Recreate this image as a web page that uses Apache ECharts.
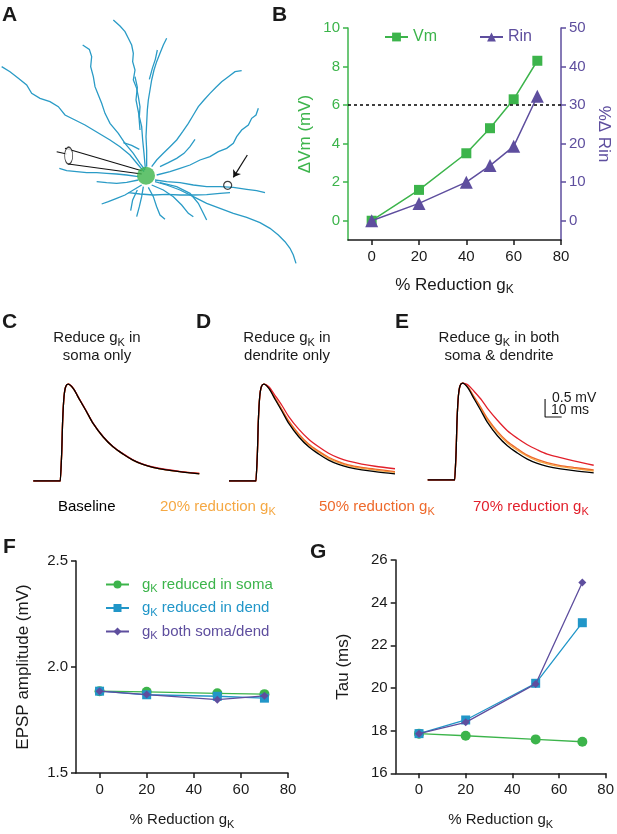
<!DOCTYPE html>
<html>
<head>
<meta charset="utf-8">
<script src="https://cdn.jsdelivr.net/npm/echarts@6/dist/echarts.min.js"></script>
<style>
  html, body { margin: 0; padding: 0; background: #fff; }
  #chart { width: 617px; height: 834px; }
</style>
</head>
<body>
<div id="chart"></div>
<script>
const FONT = '"Liberation Sans", Arial, sans-serif';
const INK = '#1a1a1a';
const GREEN = '#3cb44b';
const PURPLE = '#5e4e9e';
const BLUE = '#2196c8';
const DEND_COLOR = '#2a9bc6';
const C20 = '#f5a843';
const C50 = '#ee6a2c';
const C70 = '#e2202b';

// ---- panel B ----
const reductionB = [0, 20, 40, 50, 60, 70];
const deltaVm = [0, 1.6, 3.5, 4.8, 6.3, 8.3];
const deltaRin = [0, 4.5, 10, 14.3, 19.3, 32.3];
const thresholdVm = 6;
const xTicks = [0, 20, 40, 60, 80];
const vmTicks = [0, 2, 4, 6, 8, 10];
const rinTicks = [0, 10, 20, 30, 40, 50];

// ---- panels C-E (ms, mV) ----
const traceTime = [0, 16.3, 16.5, 17.1, 17.7, 18.5, 19.5, 21, 24, 28, 32, 36, 42, 48, 54, 60, 66, 72, 80, 88, 100];
const baseline  = [0, 0, 0, 0.77, 1.69, 2.34, 2.62, 2.69, 2.57, 2.25, 1.93, 1.60, 1.23, 0.95, 0.75, 0.58, 0.46, 0.38, 0.31, 0.26, 0.20];
const soma20    = [0, 0, 0, 0.77, 1.69, 2.34, 2.62, 2.69, 2.57, 2.25, 1.93, 1.60, 1.23, 0.95, 0.75, 0.58, 0.46, 0.38, 0.31, 0.26, 0.20];
const soma50    = [0, 0, 0, 0.77, 1.69, 2.34, 2.62, 2.69, 2.57, 2.25, 1.93, 1.60, 1.23, 0.95, 0.75, 0.58, 0.46, 0.38, 0.31, 0.26, 0.21];
const soma70    = [0, 0, 0, 0.77, 1.69, 2.34, 2.62, 2.69, 2.58, 2.26, 1.94, 1.61, 1.24, 0.96, 0.76, 0.59, 0.47, 0.39, 0.32, 0.27, 0.21];
const dend20    = [0, 0, 0, 0.77, 1.69, 2.34, 2.62, 2.69, 2.58, 2.27, 1.96, 1.64, 1.28, 1.00, 0.80, 0.63, 0.51, 0.42, 0.35, 0.30, 0.24];
const dend50    = [0, 0, 0, 0.77, 1.69, 2.34, 2.62, 2.69, 2.59, 2.29, 1.98, 1.67, 1.31, 1.03, 0.83, 0.66, 0.54, 0.45, 0.38, 0.33, 0.26];
const dend70    = [0, 0, 0, 0.77, 1.69, 2.34, 2.62, 2.69, 2.62, 2.36, 2.09, 1.79, 1.44, 1.16, 0.95, 0.77, 0.64, 0.55, 0.47, 0.41, 0.34];
const both20    = [0, 0, 0, 0.77, 1.69, 2.34, 2.62, 2.69, 2.59, 2.29, 1.99, 1.67, 1.31, 1.03, 0.83, 0.66, 0.53, 0.45, 0.37, 0.32, 0.25];
const both50    = [0, 0, 0, 0.77, 1.69, 2.34, 2.62, 2.69, 2.60, 2.31, 2.02, 1.71, 1.35, 1.07, 0.87, 0.69, 0.57, 0.48, 0.40, 0.35, 0.28];
const both70    = [0, 0, 0, 0.77, 1.69, 2.34, 2.62, 2.69, 2.65, 2.46, 2.25, 1.99, 1.66, 1.37, 1.16, 0.98, 0.84, 0.72, 0.62, 0.53, 0.41];
const scaleBarMs = 10;
const scaleBarMv = 0.5;

// ---- panels F, G ----
const reductionFG = [0, 20, 50, 70];
const ampSoma = [1.886, 1.883, 1.876, 1.872];
const ampDend = [1.886, 1.869, 1.862, 1.853];
const ampBoth = [1.886, 1.870, 1.846, 1.864];
const tauSoma = [17.86, 17.76, 17.59, 17.48];
const tauDend = [17.86, 18.50, 20.22, 23.06];
const tauBoth = [17.86, 18.39, 20.19, 24.95];

// ---- panel A: traced morphology (drawing units) ----
const dendrites = [
  [[5,200],[30,215],[55,235],[80,255],[95,280],[120,295],[150,305],[175,320],[195,345],[225,360],[255,375],[280,390],[305,405],[330,420],[360,440],[390,465],[415,495],[432,515]],
  [[340,60],[360,78],[375,95],[385,115],[395,135],[400,160],[398,185],[405,210],[400,240],[410,265],[415,290],[420,320],[418,350],[425,380],[428,420],[432,460],[436,505]],
  [[248,135],[268,148],[275,170],[272,200],[280,230],[285,260],[295,285],[305,310],[315,340],[330,370],[355,400],[375,430],[400,460],[420,490],[435,510]],
  [[500,115],[490,135],[480,160],[470,185],[462,210],[455,240],[450,270],[445,300],[442,330],[440,370],[438,410],[440,450],[440,500]],
  [[405,230],[412,262],[408,300],[416,340],[420,390]],
  [[472,150],[466,178],[457,205],[448,238]],
  [[725,212],[705,215],[685,230],[665,245],[648,262],[630,280],[612,300],[595,320],[580,345],[565,370],[548,395],[530,420],[510,440],[490,460],[470,480],[455,500]],
  [[775,325],[768,345],[755,355],[745,375],[725,390],[710,410],[700,430],[680,445],[655,455],[630,470],[600,480],[570,495],[540,505],[510,515],[470,525]],
  [[585,418],[570,440],[552,460],[530,475],[505,488],[480,500]],
  [[370,428],[395,436],[418,448]],
  [[178,505],[200,512],[230,515],[260,518],[290,518],[320,520],[350,522],[380,525],[415,530]],
  [[290,545],[320,548],[350,550],[380,547],[415,540]],
  [[465,540],[500,545],[540,548],[580,555],[620,560],[660,560],[700,562],[740,568],[770,572],[795,578]],
  [[465,545],[500,555],[540,570],[580,590],[620,610],[660,625],[700,640],[740,652],[780,668],[810,685],[835,705],[855,725],[870,745],[880,765],[888,790]],
  [[425,555],[400,570],[375,585],[350,595],[325,605],[305,612]],
  [[430,560],[425,590],[418,620],[410,650]],
  [[445,562],[460,590],[470,620],[480,645],[495,658]],
  [[455,555],[490,570],[520,590],[545,615],[565,640],[580,650]],
  [[480,548],[530,560],[570,580],[595,610],[610,640],[620,660]],
  [[385,578],[420,582],[460,585],[500,583],[540,585],[580,585],[620,584],[660,580],[690,578]],
  [[412,570],[398,600],[392,632]]
];
const somaCenter = [438, 527];
const pipetteEdges = [
  [[195,445],[425,512]],
  [[205,492],[425,522]],
  [[170,455],[200,462]]
];
const pipetteTip = [206, 467];
const recordSite = [683, 556];
const recordArrow = [[742,465],[700,532]];

// ---------------------------------------------------------------
// rich styles for ECharts text (color) and for graphic text (fill)
const subRich = (color, size) => ({
  n: { color: color, fontSize: size, fontFamily: FONT, lineHeight: size + 5, verticalAlign: 'middle' },
  s: { color: color, fontSize: Math.round(size * 0.72), fontFamily: FONT, verticalAlign: 'bottom' }
});
const subFill = (color, size) => ({
  n: { fill: color, fontSize: size, fontFamily: FONT, lineHeight: size + 5, verticalAlign: 'middle' },
  s: { fill: color, fontSize: Math.round(size * 0.72), fontFamily: FONT, verticalAlign: 'bottom' }
});

function text(x, y, str, opts) {
  opts = opts || {};
  const size = opts.size || 15;
  return {
    type: 'text', x: x, y: y, silent: true,
    style: {
      text: str,
      fill: opts.color || INK,
      font: (opts.bold ? 'bold ' : '') + size + 'px ' + FONT,
      align: opts.align || 'left',
      verticalAlign: 'middle',
      rich: opts.rich
    }
  };
}

const tickFont = { fontSize: 15, fontFamily: FONT, color: INK };
const axisLine = color => ({ onZero: false, lineStyle: { color: color, width: 1.5 } });
const axisTick = (color, values) => ({ customValues: values, length: 5, lineStyle: { color: color, width: 1.5 } });

function traceSeries(gridIdx, curves) {
  const colors = [C20, C50, C70, '#000'];
  return curves.map((vals, k) => ({
    type: 'line',
    xAxisIndex: gridIdx, yAxisIndex: gridIdx + 1,
    data: traceTime.map((t, i) => [t, vals[i]]),
    smooth: 0.3,
    showSymbol: false, symbol: 'none',
    lineStyle: { color: colors[k], width: 1.3 },
    z: 3 + k
  }));
}

const xRedName = '{n|% Reduction g}{s|K}';

const option = {
  animation: false,
  backgroundColor: '#fff',
  grid: [
    { left: 0, top: 0, width: 310, height: 270 },
    { left: 348, top: 28, width: 213, height: 212 },
    { left: 33.3, top: 373, width: 166, height: 108 },
    { left: 229, top: 373, width: 166, height: 108 },
    { left: 427.7, top: 372, width: 166, height: 108 },
    { left: 76, top: 561, width: 212, height: 212 },
    { left: 395.7, top: 560, width: 212.3, height: 213.3 }
  ],
  xAxis: [
    { gridIndex: 0, type: 'value', min: 0, max: 930, show: false },
    {
      gridIndex: 1, type: 'value', min: -10, max: 80,
      axisLine: axisLine(INK), axisTick: axisTick(INK, xTicks),
      axisLabel: Object.assign({ customValues: xTicks, margin: 9 }, tickFont),
      splitLine: { show: false },
      name: xRedName, nameLocation: 'middle', nameGap: 34,
      nameTextStyle: { rich: subRich(INK, 17) }
    },
    { gridIndex: 2, type: 'value', min: 0, max: 100, show: false },
    { gridIndex: 3, type: 'value', min: 0, max: 100, show: false },
    { gridIndex: 4, type: 'value', min: 0, max: 100, show: false },
    {
      gridIndex: 5, type: 'value', min: -10, max: 80,
      axisLine: axisLine(INK), axisTick: axisTick(INK, xTicks),
      axisLabel: Object.assign({ customValues: xTicks, margin: 9 }, tickFont),
      splitLine: { show: false },
      name: xRedName, nameLocation: 'middle', nameGap: 37,
      nameTextStyle: { rich: subRich(INK, 15) }
    },
    {
      gridIndex: 6, type: 'value', min: -10, max: 80,
      axisLine: axisLine(INK), axisTick: axisTick(INK, xTicks),
      axisLabel: Object.assign({ customValues: xTicks, margin: 9 }, tickFont),
      splitLine: { show: false },
      name: xRedName, nameLocation: 'middle', nameGap: 37,
      nameTextStyle: { rich: subRich(INK, 15) }
    }
  ],
  yAxis: [
    { gridIndex: 0, type: 'value', min: 0, max: 810, inverse: true, show: false },
    {
      gridIndex: 1, type: 'value', min: -1, max: 10, position: 'left',
      axisLine: axisLine(GREEN), axisTick: axisTick(GREEN, vmTicks),
      axisLabel: Object.assign({}, tickFont, { customValues: vmTicks, color: GREEN, margin: 8 }),
      splitLine: { show: false },
      name: '\u0394Vm (mV)', nameLocation: 'middle', nameGap: 34,
      nameTextStyle: { color: GREEN, fontSize: 17, fontFamily: FONT }
    },
    {
      gridIndex: 1, type: 'value', min: -5, max: 50, position: 'right',
      axisLine: axisLine(PURPLE), axisTick: axisTick(PURPLE, rinTicks),
      axisLabel: Object.assign({}, tickFont, { customValues: rinTicks, color: PURPLE, margin: 8 }),
      splitLine: { show: false },
      name: '%\u0394 Rin', nameLocation: 'middle', nameGap: 34, nameRotate: -90,
      nameTextStyle: { color: PURPLE, fontSize: 17, fontFamily: FONT }
    },
    { gridIndex: 2, type: 'value', min: 0, max: 3, show: false },
    { gridIndex: 3, type: 'value', min: 0, max: 3, show: false },
    { gridIndex: 4, type: 'value', min: 0, max: 3, show: false },
    {
      gridIndex: 5, type: 'value', min: 1.5, max: 2.5, interval: 0.5,
      axisLine: axisLine(INK), axisTick: { length: 5, lineStyle: { color: INK, width: 1.5 } },
      axisLabel: Object.assign({ margin: 8, formatter: v => v.toFixed(1) }, tickFont),
      splitLine: { show: false },
      name: 'EPSP amplitude (mV)', nameLocation: 'middle', nameGap: 44,
      nameTextStyle: { color: INK, fontSize: 17, fontFamily: FONT }
    },
    {
      gridIndex: 6, type: 'value', min: 16, max: 26, interval: 2,
      axisLine: axisLine(INK), axisTick: { length: 5, lineStyle: { color: INK, width: 1.5 } },
      axisLabel: Object.assign({ margin: 8 }, tickFont),
      splitLine: { show: false },
      name: 'Tau (ms)', nameLocation: 'middle', nameGap: 44,
      nameTextStyle: { color: INK, fontSize: 17, fontFamily: FONT }
    }
  ],
  legend: [
    {
      data: ['Vm', 'Rin'], left: 379, top: 24, itemWidth: 23, itemHeight: 11, itemGap: 42,
      selectedMode: false,
      formatter: name => '{' + (name === 'Vm' ? 'g' : 'p') + '|' + name + '}',
      textStyle: { fontSize: 16, fontFamily: FONT, rich: {
        g: { color: GREEN, fontSize: 16, fontFamily: FONT },
        p: { color: PURPLE, fontSize: 16, fontFamily: FONT }
      } }
    },
    {
      data: ['soma', 'dend', 'both'], orient: 'vertical', left: 100, top: 572,
      itemWidth: 23, itemHeight: 10, itemGap: 6, selectedMode: false,
      formatter: name => {
        const key = { soma: 'a', dend: 'b', both: 'c' }[name];
        const rest = { soma: ' reduced in soma', dend: ' reduced in dend', both: ' both soma/dend' }[name];
        return '{' + key + 'n|g}{' + key + 's|K}{' + key + 'n|' + rest + '}';
      },
      textStyle: { fontSize: 15, fontFamily: FONT, padding: [0, 0, 0, 8], rich: (() => {
        const r = {};
        [['a', GREEN], ['b', BLUE], ['c', PURPLE]].forEach(([k, c]) => {
          const base = subRich(c, 15);
          r[k + 'n'] = base.n; r[k + 's'] = base.s;
        });
        return r;
      })() }
    }
  ],
  series: [
    // panel A
    {
      type: 'lines', coordinateSystem: 'cartesian2d', xAxisIndex: 0, yAxisIndex: 0,
      polyline: true, silent: true,
      lineStyle: { color: DEND_COLOR, width: 1.3, opacity: 1 },
      data: dendrites.map(d => ({ coords: d }))
    },
    {
      type: 'lines', coordinateSystem: 'cartesian2d', xAxisIndex: 0, yAxisIndex: 0,
      silent: true, z: 4,
      lineStyle: { color: '#111', width: 1.1, opacity: 1 },
      data: pipetteEdges.map(d => ({ coords: d }))
    },
    {
      type: 'scatter', xAxisIndex: 0, yAxisIndex: 0, silent: true, z: 5,
      symbol: 'circle', symbolSize: [8, 17],
      itemStyle: { color: '#fff', borderColor: '#111', borderWidth: 1.1 },
      data: [pipetteTip]
    },
    {
      type: 'scatter', xAxisIndex: 0, yAxisIndex: 0, silent: true, z: 6,
      symbol: 'circle', symbolSize: 18,
      itemStyle: { color: GREEN },
      data: [somaCenter]
    },
    {
      type: 'scatter', xAxisIndex: 0, yAxisIndex: 0, silent: true, z: 6,
      symbol: 'circle', symbolSize: 8,
      itemStyle: { color: 'rgba(0,0,0,0)', borderColor: '#111', borderWidth: 1.2 },
      data: [recordSite]
    },
    {
      type: 'lines', coordinateSystem: 'cartesian2d', xAxisIndex: 0, yAxisIndex: 0,
      silent: true, z: 6, symbol: ['none', 'arrow'], symbolSize: 7,
      lineStyle: { color: '#111', width: 1.2, opacity: 1 },
      data: [{ coords: recordArrow }]
    },
    // panel B
    {
      name: 'Vm', type: 'line', xAxisIndex: 1, yAxisIndex: 1,
      data: reductionB.map((x, i) => [x, deltaVm[i]]),
      symbol: 'rect', symbolSize: 10,
      lineStyle: { color: GREEN, width: 1.5 }, itemStyle: { color: GREEN },
      markLine: {
        silent: true, symbol: 'none', label: { show: false },
        lineStyle: { color: '#000', type: [3, 3], width: 1.5 },
        data: [{ yAxis: thresholdVm }]
      },
      z: 4
    },
    {
      name: 'Rin', type: 'line', xAxisIndex: 1, yAxisIndex: 2,
      data: reductionB.map((x, i) => [x, deltaRin[i]]),
      symbol: 'triangle', symbolSize: 13,
      lineStyle: { color: PURPLE, width: 1.5 }, itemStyle: { color: PURPLE },
      z: 5
    },
    // panels C-E
    ...traceSeries(2, [soma20, soma50, soma70, baseline]),
    ...traceSeries(3, [dend20, dend50, dend70, baseline]),
    ...traceSeries(4, [both20, both50, both70, baseline]),
    {
      type: 'line', xAxisIndex: 4, yAxisIndex: 5, silent: true, symbol: 'none',
      lineStyle: { color: '#111', width: 1.1 },
      data: [[70.7, 1.75 + scaleBarMv], [70.7, 1.75], [70.7 + scaleBarMs, 1.75]]
    },
    // panel F
    {
      name: 'soma', type: 'line', xAxisIndex: 5, yAxisIndex: 6,
      data: reductionFG.map((x, i) => [x, ampSoma[i]]),
      symbol: 'circle', symbolSize: 10,
      lineStyle: { color: GREEN, width: 1.3 }, itemStyle: { color: GREEN }, z: 3
    },
    {
      name: 'dend', type: 'line', xAxisIndex: 5, yAxisIndex: 6,
      data: reductionFG.map((x, i) => [x, ampDend[i]]),
      symbol: 'rect', symbolSize: 9,
      lineStyle: { color: BLUE, width: 1.3 }, itemStyle: { color: BLUE }, z: 4
    },
    {
      name: 'both', type: 'line', xAxisIndex: 5, yAxisIndex: 6,
      data: reductionFG.map((x, i) => [x, ampBoth[i]]),
      symbol: 'diamond', symbolSize: 8,
      lineStyle: { color: PURPLE, width: 1.3 }, itemStyle: { color: PURPLE }, z: 5
    },
    // panel G
    {
      name: 'soma', type: 'line', xAxisIndex: 6, yAxisIndex: 7,
      data: reductionFG.map((x, i) => [x, tauSoma[i]]),
      symbol: 'circle', symbolSize: 10,
      lineStyle: { color: GREEN, width: 1.3 }, itemStyle: { color: GREEN }, z: 3
    },
    {
      name: 'dend', type: 'line', xAxisIndex: 6, yAxisIndex: 7,
      data: reductionFG.map((x, i) => [x, tauDend[i]]),
      symbol: 'rect', symbolSize: 9,
      lineStyle: { color: BLUE, width: 1.3 }, itemStyle: { color: BLUE }, z: 4
    },
    {
      name: 'both', type: 'line', xAxisIndex: 6, yAxisIndex: 7,
      data: reductionFG.map((x, i) => [x, tauBoth[i]]),
      symbol: 'diamond', symbolSize: 8,
      lineStyle: { color: PURPLE, width: 1.3 }, itemStyle: { color: PURPLE }, z: 5
    }
  ],
  graphic: [
    text(2, 15, 'A', { bold: true, size: 21 }),
    text(272, 15, 'B', { bold: true, size: 21 }),
    text(2, 322, 'C', { bold: true, size: 21 }),
    text(196, 322, 'D', { bold: true, size: 21 }),
    text(395, 322, 'E', { bold: true, size: 21 }),
    text(3, 547, 'F', { bold: true, size: 21 }),
    text(310, 552, 'G', { bold: true, size: 21 }),
    text(97, 338, '{n|Reduce g}{s|K}{n| in}', { align: 'center', rich: subFill(INK, 15) }),
    text(97, 356, 'soma only', { align: 'center' }),
    text(287, 338, '{n|Reduce g}{s|K}{n| in}', { align: 'center', rich: subFill(INK, 15) }),
    text(287, 356, 'dendrite only', { align: 'center' }),
    text(499, 338, '{n|Reduce g}{s|K}{n| in both}', { align: 'center', rich: subFill(INK, 15) }),
    text(499, 356, 'soma & dendrite', { align: 'center' }),
    text(552, 398, '0.5 mV', { size: 14 }),
    text(551, 410, '10 ms', { size: 14 }),
    text(58, 507, 'Baseline', { color: '#000' }),
    text(160, 507, '{n|20% reduction g}{s|K}', { color: C20, rich: subFill(C20, 15) }),
    text(319, 507, '{n|50% reduction g}{s|K}', { color: C50, rich: subFill(C50, 15) }),
    text(473, 507, '{n|70% reduction g}{s|K}', { color: C70, rich: subFill(C70, 15) })
  ]
};

const chart = echarts.init(document.getElementById('chart'), null, { renderer: 'canvas' });
chart.setOption(option);
</script>
</body>
</html>
